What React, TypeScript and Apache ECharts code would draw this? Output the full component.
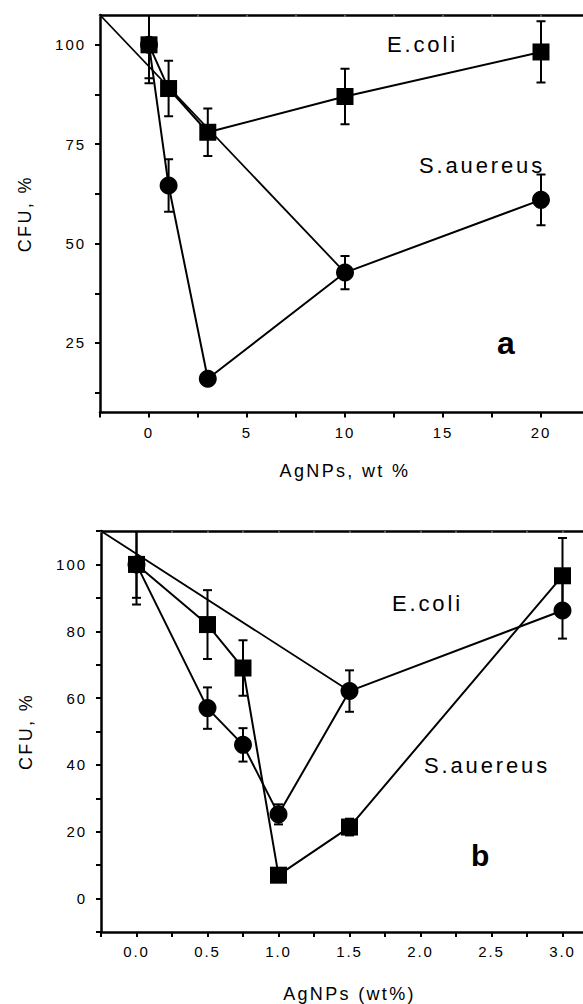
import React, { useEffect, useRef } from "react";
import * as echarts from "echarts";

// ---------- Panel a ----------
const aX = [0, 1, 3, 10, 20];
const aEcoli = [100, 89, 78, 87, 98.2];
const aEcoliErr = [9.7, 7, 6, 7, 7.7];
const aSaur = [100, 64.6, 16, 42.7, 61];
const aSaurErr = [8.4, 6.6, 0, 4.2, 6.4];
const aGuideX = [-2.5, 10];
const aGuideY = [107.5, 42.7];
const aXLabels = [0, 5, 10, 15, 20];
const aYLabels = [25, 50, 75, 100];
const aYTicks = [12.5, 25, 37.5, 50, 62.5, 75, 87.5, 100];

// ---------- Panel b ----------
const bX = [0, 0.5, 0.75, 1.0, 1.5, 3.0];
const bEcoli = [100, 82, 69, 7, 21.4, 96.6];
const bEcoliErr = [12, 10.3, 8.3, 0, 2.5, 11.3];
const bSaur = [100, 57, 46, 25.2, 62.1, 86.2];
const bSaurErr = [10, 6.2, 5, 3, 6.2, 8.4];
const bGuideX = [-0.25, 1.5];
const bGuideY = [110, 62.1];

const FONT = "'Liberation Sans', Arial, Helvetica, sans-serif";

function errSeries(name: string, idx: number, xs: number[], ys: number[], errs: number[]) {
  const data: number[][] = [];
  xs.forEach((x, i) => {
    if (errs[i] > 0) data.push([x, ys[i] - errs[i], ys[i] + errs[i]]);
  });
  return {
    type: "custom",
    name,
    xAxisIndex: idx * 2,
    yAxisIndex: idx,
    clip: true,
    z: 2,
    silent: true,
    encode: { x: 0, y: [1, 2] },
    data,
    renderItem: (_p: any, api: any) => {
      const lo = api.coord([api.value(0), api.value(1)]);
      const hi = api.coord([api.value(0), api.value(2)]);
      const w = 4.5;
      const style = { stroke: "#000", lineWidth: 2 };
      return {
        type: "group",
        children: [
          { type: "line", shape: { x1: lo[0], y1: lo[1], x2: hi[0], y2: hi[1] }, style },
          { type: "line", shape: { x1: lo[0] - w, y1: lo[1], x2: lo[0] + w, y2: lo[1] }, style },
          { type: "line", shape: { x1: hi[0] - w, y1: hi[1], x2: hi[0] + w, y2: hi[1] }, style },
        ],
      };
    },
  };
}

function lineSeries(name: string, idx: number, xs: number[], ys: number[], symbol: string, size: number) {
  return {
    type: "line",
    name,
    xAxisIndex: idx * 2,
    yAxisIndex: idx,
    data: xs.map((x, i) => [x, ys[i]]),
    symbol,
    symbolSize: size,
    showAllSymbol: true,
    itemStyle: { color: "#000" },
    lineStyle: { color: "#000", width: 2 },
    z: 3,
    silent: true,
  };
}

function guideSeries(idx: number, xs: number[], ys: number[]) {
  return {
    type: "line",
    name: "guide",
    xAxisIndex: idx * 2,
    yAxisIndex: idx,
    data: xs.map((x, i) => [x, ys[i]]),
    symbol: "none",
    lineStyle: { color: "#000", width: 1.8 },
    z: 1,
    silent: true,
  };
}

const axisLine = { show: true, onZero: false, lineStyle: { color: "#000", width: 2.5 } };
const labelStyle = { color: "#000", fontSize: 15, fontFamily: FONT };

export default function App() {
  const ref = useRef<HTMLDivElement>(null);
  useEffect(() => {
    if (!ref.current) return;
    const chart = echarts.init(ref.current, null, { renderer: "svg" });
    const option: any = {
      animation: false,
      backgroundColor: "#fff",
      grid: [
        { left: 100, top: 15, width: 490, height: 397.5 },
        { left: 101, top: 531, width: 497, height: 401.5 },
      ],
      xAxis: [
        {
          gridIndex: 0, type: "value", min: -2.5, max: 22.5, interval: 2.5,
          axisLine, splitLine: { show: false },
          axisTick: { show: true, inside: false, length: 5, lineStyle: { color: "#000", width: 2 } },
          axisLabel: { ...labelStyle, margin: 12, customValues: aXLabels },
          name: "AgNPs, wt %", nameLocation: "middle", nameGap: 49,
          nameTextStyle: { color: "#000", fontSize: 18, fontFamily: FONT },
        },
        {
          gridIndex: 0, type: "value", position: "top", min: -2.5, max: 22.5, interval: 2.5,
          axisLine, splitLine: { show: false },
          axisTick: { show: true, inside: true, length: 2, lineStyle: { color: "#777", width: 1.5 } },
          axisLabel: { show: false },
        },
        {
          gridIndex: 1, type: "value", min: -0.25, max: 3.25, interval: 0.25,
          axisLine, splitLine: { show: false },
          axisTick: { show: true, inside: false, length: 5, lineStyle: { color: "#000", width: 2 } },
          axisLabel: {
            ...labelStyle, margin: 12,
            formatter: (v: number) => (Math.abs(v * 2 - Math.round(v * 2)) < 1e-6 && v >= 0 ? v.toFixed(1) : ""),
          },
          name: "AgNPs (wt%)", nameLocation: "middle", nameGap: 53,
          nameTextStyle: { color: "#000", fontSize: 18, fontFamily: FONT },
        },
        {
          gridIndex: 1, type: "value", position: "top", min: -0.25, max: 3.25, interval: 0.25,
          axisLine, splitLine: { show: false },
          axisTick: { show: true, inside: true, length: 2, lineStyle: { color: "#777", width: 1.5 } },
          axisLabel: { show: false },
        },
      ],
      yAxis: [
        {
          gridIndex: 0, type: "value", min: 7.5, max: 107.5,
          axisLine, splitLine: { show: false },
          axisTick: { show: true, inside: false, length: 5, customValues: aYTicks, lineStyle: { color: "#000", width: 2 } },
          axisLabel: { ...labelStyle, margin: 14, customValues: aYLabels },
          name: "CFU, %", nameLocation: "middle", nameGap: 66,
          nameTextStyle: { color: "#000", fontSize: 18, fontFamily: FONT },
        },
        {
          gridIndex: 1, type: "value", min: -10, max: 110, interval: 10,
          axisLine, splitLine: { show: false },
          axisTick: { show: true, inside: false, length: 5, lineStyle: { color: "#000", width: 2 } },
          axisLabel: {
            ...labelStyle, margin: 14,
            formatter: (v: number) => (v >= 0 && v <= 100 && Math.round(v) % 20 === 0 ? String(v) : ""),
          },
          name: "CFU, %", nameLocation: "middle", nameGap: 66,
          nameTextStyle: { color: "#000", fontSize: 18, fontFamily: FONT },
        },
      ],
      graphic: [
        { type: "text", x: 387, y: 44.5, style: { text: "E.coli", fill: "#000", fontSize: 22, fontFamily: FONT, verticalAlign: "middle", textVerticalAlign: "middle" } },
        { type: "text", x: 419, y: 165, style: { text: "S.auereus", fill: "#000", fontSize: 22, fontFamily: FONT, verticalAlign: "middle", textVerticalAlign: "middle" } },
        { type: "text", x: 497, y: 343, style: { text: "a", fill: "#000", fontSize: 32, fontWeight: "bold", fontFamily: FONT, verticalAlign: "middle", textVerticalAlign: "middle" } },
        { type: "text", x: 392, y: 603, style: { text: "E.coli", fill: "#000", fontSize: 22, fontFamily: FONT, verticalAlign: "middle", textVerticalAlign: "middle" } },
        { type: "text", x: 424, y: 765, style: { text: "S.auereus", fill: "#000", fontSize: 22, fontFamily: FONT, verticalAlign: "middle", textVerticalAlign: "middle" } },
        { type: "text", x: 471, y: 855, style: { text: "b", fill: "#000", fontSize: 30, fontWeight: "bold", fontFamily: FONT, verticalAlign: "middle", textVerticalAlign: "middle" } },
      ],
      series: [
        guideSeries(0, aGuideX, aGuideY),
        errSeries("E.coli err a", 0, aX, aEcoli, aEcoliErr),
        errSeries("S.aureus err a", 0, aX, aSaur, aSaurErr),
        lineSeries("E.coli a", 0, aX, aEcoli, "rect", 17),
        lineSeries("S.aureus a", 0, aX, aSaur, "circle", 18),
        guideSeries(1, bGuideX, bGuideY),
        errSeries("E.coli err b", 1, bX, bEcoli, bEcoliErr),
        errSeries("S.aureus err b", 1, bX, bSaur, bSaurErr),
        lineSeries("E.coli b", 1, bX, bEcoli, "rect", 17),
        lineSeries("S.aureus b", 1, bX, bSaur, "circle", 18),
      ],
    };
    chart.setOption(option);
    return () => chart.dispose();
  }, []);

  return (
    <div style={{ position: "absolute", left: 0, top: 0, width: 583, height: 1004, overflow: "hidden", background: "#fff" }}>
      <style>{`.chartbox svg text { letter-spacing: 0.13em; }`}</style>
      <div className="chartbox" ref={ref} style={{ width: 620, height: 1004 }} />
    </div>
  );
}
